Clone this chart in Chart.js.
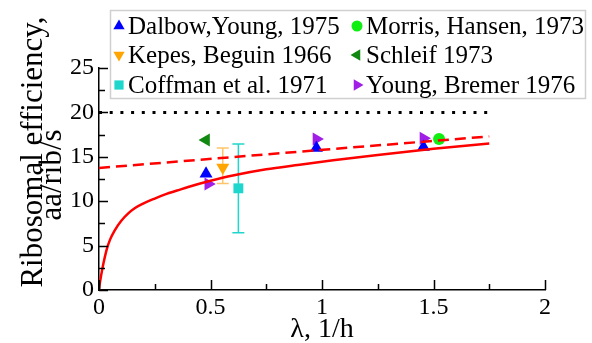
<!DOCTYPE html>
<html>
<head>
<meta charset="utf-8">
<script src="https://cdn.jsdelivr.net/npm/chart.js@4.4.1/dist/chart.umd.min.js"></script>
<style>
  html, body { margin: 0; padding: 0; background: #fff; }
  #wrap { width: 592px; height: 343px; position: relative; }
  #prime { position: absolute; left: -200px; top: 0; }
</style>
</head>
<body>
<canvas id="prime" width="120" height="40"></canvas>
<div id="wrap"><canvas id="chart"></canvas></div>
<script>
// ---- data ----
const dalbowX = [0.48, 0.975, 1.455];
const dalbowY = [13.1, 16.0, 16.1];

const kepesX = [0.555];
const kepesY = [13.8];
const kepesLow = [12.0];
const kepesHigh = [16.0];

const coffmanX = [0.625];
const coffmanY = [11.45];
const coffmanLow = [6.45];
const coffmanHigh = [16.45];

const morrisX = [1.525];
const morrisY = [17.0];

const schleifX = [0.48];
const schleifY = [16.9];

const youngX = [0.49, 0.975, 1.455];
const youngY = [11.95, 17.0, 17.1];

// model curves
const curveX = [0, 0.004, 0.01, 0.02, 0.035, 0.05, 0.07, 0.1, 0.13, 0.16, 0.2, 0.25, 0.3, 0.35, 0.4, 0.5, 0.6, 0.75, 0.9, 1.05, 1.25, 1.5, 1.75];
const curveY = [0, 0.8, 1.7, 3.0, 4.6, 5.7, 6.7, 7.8, 8.6, 9.2, 9.75, 10.3, 10.8, 11.2, 11.6, 12.3, 12.9, 13.6, 14.1, 14.6, 15.2, 15.9, 16.5];
const dashedX = [0, 1.75];
const dashedY = [13.75, 17.3];
const dottedX = [0, 1.77];
const dottedY = [20, 20];

const xTickValues = [0, 0.25, 0.5, 0.75, 1, 1.25, 1.5, 1.75, 2];
const yTickValues = [0, 2.5, 5, 7.5, 10, 12.5, 15, 17.5, 20, 22.5, 25];

const xTitle = 'λ, 1/h';
const yTitleLines = ['Ribosomal efficiency,', 'aa/rib/s'];

const SERIF = '"Liberation Serif"';

const toPoints = (xs, ys) => xs.map((x, i) => ({ x, y: ys[i] }));

// warm up the serif face on a plain canvas before Chart.js measures anything
const primeCtx = document.getElementById('prime').getContext('2d');
primeCtx.font = '24px ' + SERIF;
primeCtx.fillText('Ribosomal 0.5 λ', 2, 28);

Chart.defaults.font.family = SERIF;
Chart.defaults.color = '#000';

// legend entries (two columns, three rows)
const legendItems = [
    { text: 'Dalbow,Young, 1975', color: '#0000ff', style: 'triangle', rot: 0, col: 0, row: 0 },
    { text: 'Kepes, Beguin 1966', color: '#ffa500', style: 'triangle', rot: 180, col: 0, row: 1 },
    { text: 'Coffman et al. 1971', color: '#1ed6cc', style: 'rect', rot: 0, col: 0, row: 2 },
    { text: 'Morris, Hansen, 1973', color: '#11ee11', style: 'circle', rot: 0, col: 1, row: 0 },
    { text: 'Schleif 1973', color: '#118811', style: 'triangle', rot: -90, col: 1, row: 1 },
    { text: 'Young, Bremer 1976', color: '#a01ee6', style: 'triangle', rot: 90, col: 1, row: 2 }
];

// text drawn at 24px and scaled to the wanted size
function bigText(ctx, text, x, y, size, align, baseline, vertical) {
    ctx.save();
    ctx.translate(x, y);
    if (vertical) ctx.rotate(-Math.PI / 2);
    const s = size / 24;
    ctx.scale(s, s);
    ctx.font = '24px ' + SERIF;
    ctx.textAlign = align;
    ctx.textBaseline = baseline;
    ctx.fillText(text, 0, 0);
    ctx.restore();
}

// ---- plugins ----
const errorBars = {
    id: 'errorBars',
    beforeDatasetsDraw(chart) {
        const { ctx, scales: { x, y } } = chart;
        const bars = [
            { xs: kepesX, lo: kepesLow, hi: kepesHigh, color: '#ffc46a' },
            { xs: coffmanX, lo: coffmanLow, hi: coffmanHigh, color: '#1ed6cc' }
        ];
        ctx.save();
        ctx.lineWidth = 1.5;
        bars.forEach(b => {
            ctx.strokeStyle = b.color;
            b.xs.forEach((xv, i) => {
                const px = x.getPixelForValue(xv);
                const pl = y.getPixelForValue(b.lo[i]);
                const ph = y.getPixelForValue(b.hi[i]);
                ctx.beginPath();
                ctx.moveTo(px, pl); ctx.lineTo(px, ph);
                ctx.moveTo(px - 6, pl); ctx.lineTo(px + 6, pl);
                ctx.moveTo(px - 6, ph); ctx.lineTo(px + 6, ph);
                ctx.stroke();
            });
        });
        ctx.restore();
    }
};

const decorations = {
    id: 'decorations',
    afterDraw(chart) {
        const { ctx, chartArea, scales: { x, y } } = chart;
        ctx.save();

        // inward tick marks
        ctx.strokeStyle = '#000';
        ctx.lineWidth = 1.5;
        ctx.beginPath();
        xTickValues.forEach(v => {
            const px = Math.round(x.getPixelForValue(v)) + 0.5;
            const len = (v * 2) % 1 === 0 ? 10 : 6;
            ctx.moveTo(px, chartArea.bottom);
            ctx.lineTo(px, chartArea.bottom - len);
        });
        yTickValues.forEach(v => {
            const py = Math.round(y.getPixelForValue(v)) + 0.5;
            const len = v % 5 === 0 ? 9 : 6;
            ctx.moveTo(chartArea.left, py);
            ctx.lineTo(chartArea.left + len, py);
        });
        ctx.stroke();

        // axis titles
        ctx.fillStyle = '#000';
        bigText(ctx, xTitle, (chartArea.left + chartArea.right) / 2, 337, 28, 'center', 'alphabetic', false);
        bigText(ctx, yTitleLines[0], 42, 152, 31, 'center', 'alphabetic', true);
        bigText(ctx, yTitleLines[1], 61, 175, 31, 'center', 'alphabetic', true);

        // legend box
        ctx.fillStyle = '#fff';
        ctx.fillRect(110.5, 10.5, 475, 88);
        ctx.strokeStyle = '#d0d0d0';
        ctx.lineWidth = 1.5;
        ctx.strokeRect(110.5, 10.5, 475, 88);

        const colX = [119, 357];
        const rowY = [26, 55, 85];
        legendItems.forEach(it => {
            const mx = colX[it.col];
            const my = rowY[it.row];
            ctx.fillStyle = it.color;
            Chart.helpers.drawPoint(ctx, {
                pointStyle: it.style,
                rotation: it.rot,
                radius: it.style === 'circle' ? 5.5 : 6.5,
                borderWidth: 0
            }, mx, my);
            ctx.fillStyle = '#000';
            bigText(ctx, it.text, mx + 9, my + 1, 25, 'left', 'middle', false);
        });
        ctx.restore();
    }
};

// ---- chart ----
const scatterSet = (label, xs, ys, color, style, rot, radius) => ({
    label,
    data: toPoints(xs, ys),
    showLine: false,
    pointStyle: style,
    rotation: rot,
    pointRadius: radius,
    pointHoverRadius: radius,
    backgroundColor: color,
    borderColor: color,
    pointBorderWidth: 0
});

new Chart(document.getElementById('chart'), {
    type: 'scatter',
    data: {
        datasets: [
            {
                type: 'line', label: 'model', data: toPoints(curveX, curveY),
                borderColor: '#ff0000', borderWidth: 2.5, pointRadius: 0,
                cubicInterpolationMode: 'monotone', fill: false
            },
            {
                type: 'line', label: 'linear', data: toPoints(dashedX, dashedY),
                borderColor: '#ff0000', borderWidth: 2.5, borderDash: [11, 6], pointRadius: 0, fill: false
            },
            {
                type: 'line', label: 'max', data: toPoints(dottedX, dottedY),
                borderColor: '#000', borderWidth: 3, borderDash: [3, 7.7], pointRadius: 0, fill: false
            },
            scatterSet('Dalbow,Young, 1975', dalbowX, dalbowY, '#0000ff', 'triangle', 0, 7.5),
            scatterSet('Kepes, Beguin 1966', kepesX, kepesY, '#ffa500', 'triangle', 180, 7.5),
            scatterSet('Coffman et al. 1971', coffmanX, coffmanY, '#1ed6cc', 'rect', 0, 7),
            scatterSet('Morris, Hansen, 1973', morrisX, morrisY, '#11ee11', 'circle', 0, 6),
            scatterSet('Schleif 1973', schleifX, schleifY, '#118811', 'triangle', -90, 7.5),
            scatterSet('Young, Bremer 1976', youngX, youngY, '#a01ee6', 'triangle', 90, 7.5)
        ]
    },
    options: {
        responsive: true,
        maintainAspectRatio: false,
        animation: false,
        layout: { padding: { top: 68, right: 47, left: 0, bottom: 0 } },
        plugins: {
            legend: { display: false },
            tooltip: { enabled: false }
        },
        scales: {
            x: {
                type: 'linear', min: 0, max: 2,
                afterFit: s => { s.height = 53; },
                ticks: {
                    stepSize: 0.5, color: '#000', padding: 3,
                    font: { family: SERIF, size: 24 },
                    callback: v => String(v)
                },
                grid: { display: false, drawTicks: false },
                border: { display: true, color: '#000', width: 1.5 }
            },
            y: {
                type: 'linear', min: 0, max: 25,
                afterFit: s => { s.width = 99; },
                ticks: {
                    stepSize: 5, color: '#000', padding: 5,
                    font: { family: SERIF, size: 24 }
                },
                grid: { display: false, drawTicks: false },
                border: { display: true, color: '#000', width: 1.5 }
            }
        }
    },
    plugins: [errorBars, decorations]
});
</script>
</body>
</html>
